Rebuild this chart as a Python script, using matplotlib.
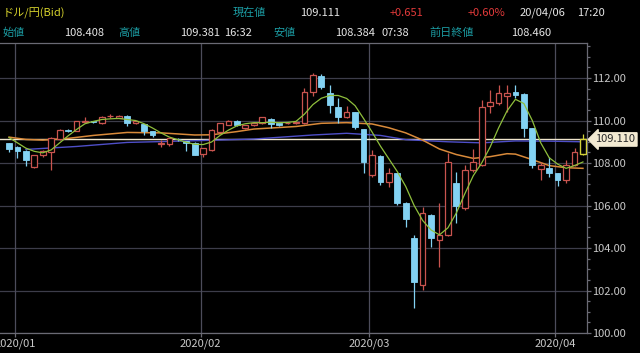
import matplotlib
matplotlib.use("Agg")
import matplotlib.pyplot as plt
from matplotlib.patches import Rectangle
from matplotlib.ticker import MultipleLocator, FixedLocator
import matplotlib.transforms as mtransforms

plt.rcParams['font.family'] = ['Noto Sans CJK JP', 'DejaVu Sans']

# ---------------- data ----------------
opens = [108.93, 108.74, 108.58, 107.83, 108.36, 108.50, 109.11, 109.57, 109.52, 109.92,
         109.97, 109.88, 110.20, 110.14, 110.20, 109.90, 109.84, 109.51, 108.90, 108.89,
         109.15, 109.04, 108.96, 108.41, 108.61, 109.47, 109.80, 109.99, 109.66, 109.79,
         109.87, 110.07, 109.88, 109.88, 109.88, 109.87, 111.33, 112.09, 111.28, 110.65,
         110.15, 110.38, 109.58, 107.44, 108.33, 107.12, 107.52, 106.13, 104.46, 102.26,
         105.55, 104.38, 104.61, 107.04, 105.87, 107.67, 107.91, 110.68, 110.81, 111.15,
         111.36, 111.25, 109.63, 107.70, 107.75, 107.52, 107.20, 107.91, 108.408]
highs = [108.96, 108.79, 108.60, 108.40, 108.62, 109.24, 109.60, 109.62, 110.00, 110.18,
         109.99, 110.20, 110.30, 110.26, 110.24, 110.00, 109.86, 109.53, 109.08, 109.18,
         109.20, 109.06, 108.98, 108.72, 109.58, 109.90, 110.02, 110.01, 109.80, 109.92,
         110.17, 110.10, 109.90, 109.93, 109.95, 111.52, 112.25, 112.20, 111.67, 111.04,
         110.68, 110.42, 109.62, 108.61, 108.36, 107.75, 107.55, 106.16, 104.61, 105.95,
         105.60, 106.10, 108.48, 107.59, 107.91, 108.64, 110.96, 111.46, 111.67, 111.67,
         111.67, 111.30, 109.65, 108.06, 108.30, 107.55, 108.14, 108.69, 109.381]
lows = [108.52, 108.22, 107.87, 107.78, 108.30, 107.67, 109.08, 109.48, 109.50, 109.88,
        109.88, 109.85, 110.12, 110.10, 109.76, 109.85, 109.30, 109.21, 108.74, 108.80,
        109.05, 108.58, 108.36, 108.30, 108.55, 109.45, 109.78, 109.76, 109.62, 109.76,
        109.85, 109.63, 109.76, 109.84, 109.82, 109.84, 111.15, 111.50, 110.34, 109.90,
        110.10, 109.60, 107.52, 107.35, 106.96, 106.89, 106.02, 105.00, 101.18, 102.02,
        104.06, 103.12, 104.55, 105.16, 105.80, 107.60, 107.85, 110.34, 110.75, 110.41,
        111.04, 109.24, 107.75, 107.20, 107.33, 106.92, 107.04, 107.85, 108.384]
closes = [108.64, 108.58, 108.14, 108.38, 108.56, 109.16, 109.55, 109.53, 109.98, 109.99,
          109.92, 110.18, 110.22, 110.22, 109.87, 109.97, 109.51, 109.32, 108.95, 109.16,
          109.11, 108.96, 108.38, 108.69, 109.55, 109.87, 109.99, 109.78, 109.77, 109.90,
          110.15, 109.82, 109.80, 109.90, 109.92, 111.36, 112.14, 111.56, 110.73, 110.18,
          110.41, 109.68, 108.06, 108.38, 107.13, 107.54, 106.13, 105.35, 102.42, 105.63,
          104.46, 104.61, 108.06, 105.98, 107.67, 108.06, 110.65, 110.89, 111.28, 111.28,
          111.20, 109.63, 107.91, 107.91, 107.52, 107.20, 107.91, 108.53, 109.111]

# 5-day moving average (green)
ma_short = [109.20, 108.95, 108.70, 108.55, 108.48, 108.62, 108.95, 109.28, 109.58, 109.85,
            109.96, 110.05, 110.08, 110.10, 110.05, 110.00, 109.85, 109.65, 109.42, 109.22,
            109.10, 108.98, 108.88, 108.87, 108.99, 109.30, 109.55, 109.75, 109.85, 109.90,
            109.90, 109.92, 109.90, 109.91, 109.96, 110.30, 110.75, 111.05, 111.18, 111.18,
            111.04, 110.70, 110.10, 109.47, 108.80, 108.20, 107.60, 106.90, 106.00, 105.30,
            104.85, 104.62, 104.95, 105.65, 106.55, 107.40, 108.00, 108.75, 109.65, 110.45,
            111.00, 110.80, 110.00, 108.95, 108.25, 107.95, 107.75, 107.88, 108.05]
# 25-day moving average (orange)
ma_mid_idx = [0, 2, 4, 7, 10, 14, 18, 22, 24, 27, 29, 34, 37, 40, 43, 45, 47, 49, 51,
              53, 55, 57, 59, 60, 62, 64, 66, 68]
ma_mid = [109.22, 109.11, 109.08, 109.16, 109.30, 109.44, 109.42, 109.32, 109.33, 109.48,
          109.60, 109.72, 109.87, 109.90, 109.84, 109.66, 109.42, 109.08, 108.66,
          108.40, 108.22, 108.30, 108.44, 108.42, 108.16, 107.88, 107.78, 107.75]
# long moving average (blue)
ma_long_idx = [2, 8, 14, 22, 29, 36, 40, 44, 47, 52, 56, 60, 64, 68]
ma_long = [108.64, 108.78, 108.97, 109.05, 109.13, 109.32, 109.40, 109.30, 109.10,
           109.00, 108.95, 109.04, 109.03, 109.00]

month_labels = ["2020/01", "2020/02", "2020/03", "2020/04"]
month_first_idx = [1, 23, 43, 65]
current_price = 109.110

header_row1 = [("ドル/円(Bid)", "#d6d22c"), ("現在値", "#1c9ca3"), ("109.111", "#e6e6e6"),
               ("+0.651", "#e23a3a"), ("+0.60%", "#e23a3a"), ("20/04/06", "#e6e6e6"),
               ("17:20", "#e6e6e6")]
header_row2 = [("始値", "#1c9ca3"), ("108.408", "#e6e6e6"), ("高値", "#1c9ca3"),
               ("109.381", "#e6e6e6"), ("16:32", "#e6e6e6"), ("安値", "#1c9ca3"),
               ("108.384", "#e6e6e6"), ("07:38", "#e6e6e6"), ("前日終値", "#1c9ca3"),
               ("108.460", "#e6e6e6")]

# ---------------- figure ----------------
W, H = 640, 353
fig = plt.figure(figsize=(W / 100, H / 100), dpi=100, facecolor="black")
ax = fig.add_axes([0, 20 / H, 587 / W, (333 - 43) / H], facecolor="black")

n = len(closes)
ax.set_xlim(-1.07, n - 0.52)
ax.set_ylim(100, 113.65)

grid_c = "#3d3d4a"
for v in range(100, 114, 2):
    ax.axhline(v, color=grid_c, lw=0.9, zorder=0)
for i in month_first_idx:
    ax.axvline(i - 0.3, color="#4c4c5a", lw=0.9, zorder=0)

# current price line
ax.axhline(current_price, color="#efe5cc", lw=1.0, zorder=1)

# moving averages
ax.plot(ma_long_idx, ma_long, color="#4f4fc8", lw=1.0, zorder=2)
ax.plot(ma_mid_idx, ma_mid, color="#d98a3a", lw=1.1, zorder=2)
ax.plot(range(n), ma_short, color="#8fbf3c", lw=0.9, zorder=5)

# candles
bw = 0.68
up_c = "#c9544f"
dn_c = "#83d2f3"
for i in range(n):
    o, h, l, c = opens[i], highs[i], lows[i], closes[i]
    if i == n - 1:
        col = "#d3d23a"
        ax.vlines(i, l, h, color=col, lw=0.9, zorder=3)
        ax.add_patch(Rectangle((i - bw / 2, min(o, c)), bw, abs(c - o), facecolor="black",
                               edgecolor=col, lw=1.0, zorder=4))
    elif c >= o:
        ax.vlines(i, l, h, color=up_c, lw=0.9, zorder=3)
        ax.add_patch(Rectangle((i - bw / 2, o), bw, max(c - o, 0.02), facecolor="black",
                               edgecolor=up_c, lw=0.9, zorder=4))
    else:
        ax.vlines(i, l, h, color=dn_c, lw=0.9, zorder=3)
        ax.add_patch(Rectangle((i - bw / 2, c), bw, max(o - c, 0.02), facecolor=dn_c,
                               edgecolor=dn_c, lw=0.6, zorder=4))

# axes styling
ax.spines["left"].set_visible(False)
for s in ["right", "bottom", "top"]:
    ax.spines[s].set_color("#6a6a74")
    ax.spines[s].set_linewidth(0.9)

ax.yaxis.tick_right()
ax.yaxis.set_major_locator(MultipleLocator(2))
ax.yaxis.set_minor_locator(MultipleLocator(0.5))
ax.yaxis.set_major_formatter(matplotlib.ticker.FormatStrFormatter("%.2f"))
ax.tick_params(axis="y", which="major", colors="#6a6a74", labelcolor="#c8c8c8",
               length=3, width=0.9, labelsize=8, pad=0.5)
ax.tick_params(axis="y", which="minor", colors="#6a6a74", length=2.5, width=0.9)

ax.xaxis.set_major_locator(FixedLocator([i - 0.3 for i in month_first_idx]))
ax.set_xticklabels(month_labels)
ax.tick_params(axis="x", colors="#6a6a74", labelcolor="#c8c8c8", length=3, width=0.9,
               labelsize=8, pad=1)

# current price label
trans = mtransforms.blended_transform_factory(ax.transAxes, ax.transData)
ax.annotate("109.110", xy=(1.0, current_price), xycoords=trans,
            xytext=(6, 0), textcoords="offset points", ha="left", va="center",
            fontsize=8, color="#2a2a2a", annotation_clip=False, zorder=10,
            bbox=dict(boxstyle="larrow,pad=0.15", fc="#f3ead2", ec="#f3ead2"))

# header
xs1 = [3, 233, 300, 390, 468, 520, 577]
for (t, c), x in zip(header_row1, xs1):
    fig.text(x / W, 1 - 13 / H, t, color=c, fontsize=8, ha="left", va="center")
xs2 = [3, 64, 118, 180, 224, 273, 335, 382, 429, 511]
for (t, c), x in zip(header_row2, xs2):
    fig.text(x / W, 1 - 33 / H, t, color=c, fontsize=8, ha="left", va="center")

fig.savefig("out.png", dpi=100, facecolor="black")
